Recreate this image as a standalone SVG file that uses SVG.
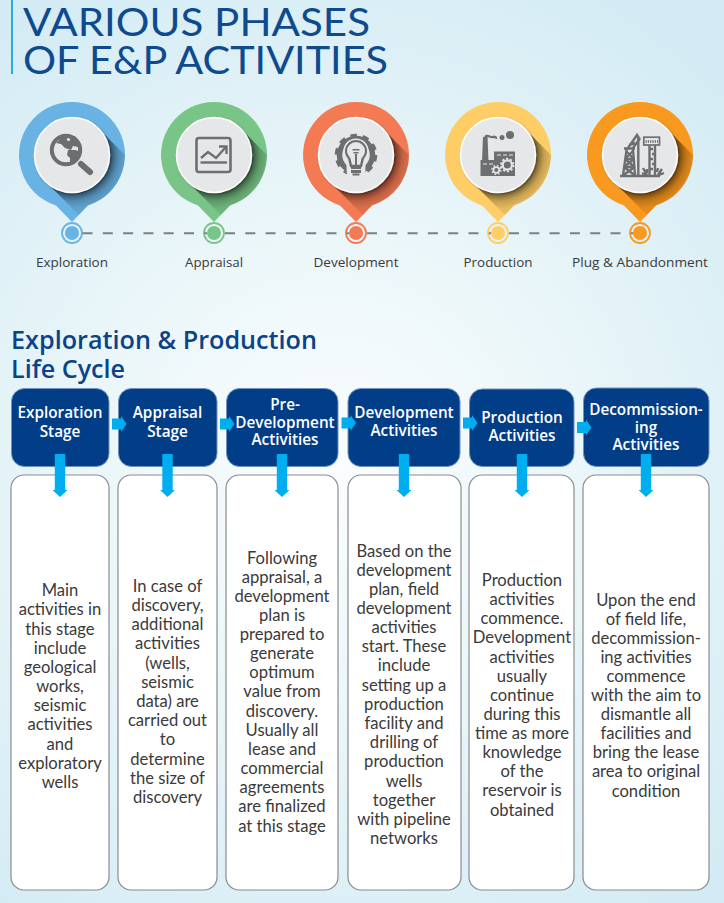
<svg xmlns="http://www.w3.org/2000/svg" width="724" height="903" viewBox="0 0 724 903">
<style>
.title{font:38.5px Lato,"Liberation Sans",sans-serif;fill:#0e4a8f}
.head{font:600 24.5px "Open Sans","Liberation Sans",sans-serif;fill:#0b4389}
.lab{font:13px "Open Sans","Liberation Sans",sans-serif;fill:#3a3a3c;text-anchor:middle}
.hd{fill:#023e87;stroke:#6f93bd;stroke-width:1}
.hdt{font:600 15.3px "Open Sans","Liberation Sans",sans-serif;fill:#fff;text-anchor:middle;transform:translateY(.7px)}
.card{fill:#fff;stroke:#8a8c8e;stroke-width:1.2}
.bt{font:16.6px Lato,"Open Sans",sans-serif;fill:#3a3a3a;text-anchor:middle;transform:translateY(1px)}
.arrow{fill:#00aeef}
.face{fill:#e6e7e8;stroke:#fff;stroke-width:1.5;filter:url(#soft)}
.ic{fill:#6d6e71}
.il{fill:none;stroke:#6d6e71;stroke-width:2.4}
.lt{fill:#e6e7e8}
.dash{stroke:#7c8083;stroke-width:2;stroke-dasharray:10 10.3;fill:none}
</style>
<defs>
<radialGradient id="bg" gradientUnits="userSpaceOnUse" cx="330" cy="470" r="560">
<stop offset="0" stop-color="#fbfdfe"/><stop offset=".45" stop-color="#eaf6f9"/><stop offset="1" stop-color="#d3ebf4"/>
</radialGradient>
<radialGradient id="sh" gradientUnits="userSpaceOnUse" cx="0" cy="0" r="70">
<stop offset=".53" stop-color="#000" stop-opacity=".6"/><stop offset=".66" stop-color="#000" stop-opacity=".22"/><stop offset=".76" stop-color="#000" stop-opacity=".1"/><stop offset="1" stop-color="#000" stop-opacity=".03"/>
</radialGradient>
<path id="pin" d="M-16,50.5A53,53 0 1 1 16,50.5L0,67Z"/>
<clipPath id="pc"><use href="#pin"/></clipPath>
<filter id="soft" x="-20%" y="-20%" width="140%" height="140%"><feDropShadow dx="1" dy="1" stdDeviation="1.2" flood-color="#000" flood-opacity=".3"/></filter>
<g id="pinbase">
<g clip-path="url(#pc)"><polygon points="26.5,-26.5 86.5,33.5 33.5,86.5 -26.5,26.5" fill="url(#sh)"/></g>
<circle class="face" r="37.5"/>
</g>
<path id="ra" d="M0,2H9V-0.5L14.5,7.5L9,15.5V13H0Z"/>
<path id="da" d="M-5.2,0H5.2V36H7.5L0,43L-7.5,36H-5.2Z"/>
</defs>
<rect width="724" height="903" fill="url(#bg)"/>

<g id="title">
<rect x="11" y="0" width="2" height="74" fill="#29abe2"/>
<text class="title" x="23" y="36" textLength="347" lengthAdjust="spacingAndGlyphs">VARIOUS PHASES</text>
<text class="title" x="23" y="74" textLength="365" lengthAdjust="spacingAndGlyphs">OF E&amp;P ACTIVITIES</text>
</g>

<g id="phase-exploration" transform="translate(72,155)">
<use href="#pin" fill="#69b3e4"/><use href="#pinbase"/>
<circle cx="-6" cy="-5" r="14.2" fill="none" stroke="#6d6e71" stroke-width="4"/>
<path class="ic" d="M-16,-12L-9,-19L3,-19L7,-13L6,-8L1,-9L-1,-5L-7,-7L-11,-11Z"/>
<path class="ic" d="M-4,-5L3,-5L7,-4L6,1L2,5L0,9L-2,9L-2,3L-5,0Z"/>
<circle cx="-3.5" cy="-15.5" r="1.6" class="lt"/>
<path d="M9,9L18,17" stroke="#6d6e71" stroke-width="6" stroke-linecap="round"/>
<circle cy="78" r="10" fill="none" stroke="#69b3e4" stroke-width="1.8"/><circle cy="78" r="7" fill="#69b3e4"/>
<text class="lab" y="112" textLength="72" lengthAdjust="spacingAndGlyphs">Exploration</text>
</g>

<g id="phase-appraisal" transform="translate(214,155)">
<use href="#pin" fill="#79c587"/><use href="#pinbase"/>
<rect x="-17.5" y="-17" width="34" height="34" rx="2.5" fill="none" stroke="#6d6e71" stroke-width="2.6"/>
<path class="il" d="M-13,3L-6,-3L2,3L12,-8" stroke-width="2.2"/>
<path class="il" d="M5,-8.5H12.5V-1" stroke-width="2.2"/>
<path class="il" d="M-13.5,7.5H13" stroke-width="2"/>
<circle cy="78" r="10" fill="none" stroke="#79c587" stroke-width="1.8"/><circle cy="78" r="7" fill="#79c587"/>
<text class="lab" y="112" textLength="58" lengthAdjust="spacingAndGlyphs">Appraisal</text>
</g>

<g id="phase-development" transform="translate(356,155)">
<use href="#pin" fill="#f47a53"/><use href="#pinbase"/>
<circle r="16.5" fill="none" stroke="#6d6e71" stroke-width="5.5"/>
<circle r="19.8" fill="none" stroke="#6d6e71" stroke-width="3" stroke-dasharray="6.5 5.94"/>
<circle cy="-4" r="12.6" class="lt"/>
<path class="lt" d="M-10,2H10L9,22H-9Z"/>
<circle cy="-4" r="10" fill="#e6e7e8" stroke="#6d6e71" stroke-width="2"/>
<path class="lt" d="M-7,2H7L5,11H-5Z"/>
<path class="il" d="M-7,2.5L-5,11H5L7,2.5" stroke-width="2"/>
<path class="ic" d="M-5,11.5H5V14H-5ZM-5,15H5V18H-5ZM-3.5,18.5H3.5V20.5H-3.5Z"/>
<rect x="-3.5" y="-6" width="7" height="1.5" class="ic"/><rect x="-2.5" y="-3" width="5" height="1.5" class="ic"/><rect x="-1" y="-1" width="2" height="12" class="ic"/>
<circle cy="78" r="10" fill="none" stroke="#f47a53" stroke-width="1.8"/><circle cy="78" r="7" fill="#f47a53"/>
<text class="lab" y="112" textLength="85" lengthAdjust="spacingAndGlyphs">Development</text>
</g>

<g id="phase-production" transform="translate(498,155)">
<use href="#pin" fill="#fecd66"/><use href="#pinbase"/>
<path class="ic" d="M-15,-18H-10.5L-9.5,6H-16Z"/>
<path class="ic" d="M-17.5,5H-4V-3.5H17V21H-17.5Z"/>
<path d="M-13,-18C-10,-21 -8,-17 -5,-18C-3,-19 -2,-17 -1,-17" fill="none" stroke="#6d6e71" stroke-width="2.4"/>
<circle cx="4" cy="-17.5" r="2.5" class="ic"/><circle cx="12" cy="-20" r="4" class="ic"/>
<circle cx="9.3" cy="10" r="4.6" fill="none" stroke="#e6e7e8" stroke-width="2.2"/><circle cx="9.3" cy="10" r="6.3" fill="none" stroke="#e6e7e8" stroke-width="1.8" stroke-dasharray="2.2 1.75"/>
<circle cx="-1.7" cy="15" r="2.9" fill="none" stroke="#e6e7e8" stroke-width="1.7"/><circle cx="-1.7" cy="15" r="4.4" fill="none" stroke="#e6e7e8" stroke-width="1.4" stroke-dasharray="1.6 1.86"/>
<path d="M-1,0H3M5,0H9M11,0H15M-15,9H-11M-9,9H-5" stroke="#e6e7e8" stroke-width="1.2"/>
<circle cy="78" r="10" fill="none" stroke="#fecd66" stroke-width="1.8"/><circle cy="78" r="7" fill="#fecd66"/>
<text class="lab" y="112" textLength="69" lengthAdjust="spacingAndGlyphs">Production</text>
</g>

<g id="phase-plug" transform="translate(640,155)">
<use href="#pin" fill="#f9991f"/><use href="#pinbase"/>
<path class="il" d="M-20,21H20" stroke-width="1.8"/>
<path class="il" d="M-17,20.5L-13.3,-6M-5,20.5L-7,-6" stroke-width="2"/>
<path class="il" d="M-16,-6.5H-5M-15,4H-6M-16,12H-5M-15,4L-5.5,12M-6,4L-16,12M-16,12L-5,20.5M-5.5,12L-17,20.5M-14,-4L-6,4M-7,-4L-15,4" stroke-width="1.4"/>
<path class="il" d="M-12,-7L-3,-20L-0.5,-16L-7,-7M-11,-10L-5,-12" stroke-width="1.6"/>
<path class="il" d="M-1.7,-17V20" stroke-width="1.7"/>
<rect x="3.8" y="-17.8" width="15.7" height="7.8" fill="none" stroke="#6d6e71" stroke-width="1.7"/>
<path d="M5.5,-13.5H18" stroke="#6d6e71" stroke-width="2.4" stroke-dasharray="1.3 1"/>
<path class="il" d="M9.5,-10V20M15,-10V20" stroke-width="1.7"/>
<path class="il" d="M10,-6H13M12,-1H14.5M10,4H13M12,9H14.5M10,14H13" stroke-width="1.2"/>
<path class="il" d="M7,20L3,13M6,20L2,18M7,18L7,14M18,20L22,14M17,17L18,13M19,20L24,18" stroke-width="1.1"/>
<circle cy="78" r="10" fill="none" stroke="#f9991f" stroke-width="1.8"/><circle cy="78" r="7" fill="#f9991f"/>
<text class="lab" y="112" textLength="136" lengthAdjust="spacingAndGlyphs">Plug &amp; Abandonment</text>
</g>

<g id="subtitle">
<text class="head" x="11" y="348.5" textLength="306" lengthAdjust="spacingAndGlyphs">Exploration &amp; Production</text>
<text class="head" x="11" y="378" textLength="114" lengthAdjust="spacingAndGlyphs">Life Cycle</text>
</g>

<g id="stage-1">
<rect class="card" x="11" y="475" width="98" height="415" rx="13"/>
<rect class="hd" x="11.5" y="388.5" width="97.5" height="78" rx="13"/>
<text class="hdt"><tspan x="60" y="417">Exploration</tspan><tspan x="60" y="436">Stage</tspan></text>
<text class="bt"><tspan x="60" y="595">Main</tspan><tspan x="60" y="614">activities in</tspan><tspan x="60" y="634">this stage</tspan><tspan x="60" y="653">include</tspan><tspan x="60" y="672">geological</tspan><tspan x="60" y="691">works,</tspan><tspan x="60" y="710">seismic</tspan><tspan x="60" y="729">activities</tspan><tspan x="60" y="749">and</tspan><tspan x="60" y="768">exploratory</tspan><tspan x="60" y="787">wells</tspan></text>
</g>

<g id="stage-2">
<rect class="card" x="118" y="475" width="99" height="415" rx="13"/>
<rect class="hd" x="118.5" y="388.5" width="98.5" height="78" rx="13"/>
<text class="hdt"><tspan x="167.5" y="417">Appraisal</tspan><tspan x="167.5" y="436">Stage</tspan></text>
<text class="bt"><tspan x="167.5" y="591">In case of</tspan><tspan x="167.5" y="610">discovery,</tspan><tspan x="167.5" y="629">additional</tspan><tspan x="167.5" y="648">activities</tspan><tspan x="167.5" y="668">(wells,</tspan><tspan x="167.5" y="687">seismic</tspan><tspan x="167.5" y="706">data) are</tspan><tspan x="167.5" y="725">carried out</tspan><tspan x="167.5" y="744">to</tspan><tspan x="167.5" y="764">determine</tspan><tspan x="167.5" y="783">the size of</tspan><tspan x="167.5" y="802">discovery</tspan></text>
</g>

<g id="stage-3">
<rect class="card" x="226" y="475" width="112" height="415" rx="13"/>
<rect class="hd" x="226.5" y="388.5" width="111.5" height="78" rx="13"/>
<text class="hdt"><tspan x="285" y="409">Pre-</tspan><tspan x="285" y="427">Development</tspan><tspan x="285" y="444">Activities</tspan></text>
<text class="bt"><tspan x="282" y="563">Following</tspan><tspan x="282" y="582">appraisal, a</tspan><tspan x="282" y="601">development</tspan><tspan x="282" y="620">plan is</tspan><tspan x="282" y="639">prepared to</tspan><tspan x="282" y="658">generate</tspan><tspan x="282" y="677">optimum</tspan><tspan x="282" y="696">value from</tspan><tspan x="282" y="716">discovery.</tspan><tspan x="282" y="735">Usually all</tspan><tspan x="282" y="754">lease and</tspan><tspan x="282" y="773">commercial</tspan><tspan x="282" y="792">agreements</tspan><tspan x="282" y="811">are finalized</tspan><tspan x="282" y="831">at this stage</tspan></text>
</g>

<g id="stage-4">
<rect class="card" x="348" y="475" width="113" height="415" rx="13"/>
<rect class="hd" x="348" y="388.5" width="112" height="78" rx="13"/>
<text class="hdt"><tspan x="404" y="417">Development</tspan><tspan x="404" y="435">Activities</tspan></text>
<text class="bt"><tspan x="404" y="556">Based on the</tspan><tspan x="404" y="575">development</tspan><tspan x="404" y="594">plan, field</tspan><tspan x="404" y="613">development</tspan><tspan x="404" y="632">activities</tspan><tspan x="404" y="651">start. These</tspan><tspan x="404" y="670">include</tspan><tspan x="404" y="690">setting up a</tspan><tspan x="404" y="709">production</tspan><tspan x="404" y="728">facility and</tspan><tspan x="404" y="747">drilling of</tspan><tspan x="404" y="766">production</tspan><tspan x="404" y="786">wells</tspan><tspan x="404" y="805">together</tspan><tspan x="404" y="824">with pipeline</tspan><tspan x="404" y="843">networks</tspan></text>
</g>

<g id="stage-5">
<rect class="card" x="469" y="475" width="105" height="415" rx="13"/>
<rect class="hd" x="469.5" y="389" width="104.5" height="77.5" rx="13"/>
<text class="hdt"><tspan x="522" y="422">Production</tspan><tspan x="522" y="440">Activities</tspan></text>
<text class="bt"><tspan x="522" y="585">Production</tspan><tspan x="522" y="604">activities</tspan><tspan x="522" y="623">commence.</tspan><tspan x="522" y="642">Development</tspan><tspan x="522" y="662">activities</tspan><tspan x="522" y="681">usually</tspan><tspan x="522" y="700">continue</tspan><tspan x="522" y="719">during this</tspan><tspan x="522" y="738">time as more</tspan><tspan x="522" y="757">knowledge</tspan><tspan x="522" y="776">of the</tspan><tspan x="522" y="795">reservoir is</tspan><tspan x="522" y="815">obtained</tspan></text>
</g>

<g id="stage-6">
<rect class="card" x="583" y="475" width="126" height="415" rx="13"/>
<rect class="hd" x="583.5" y="388" width="125.5" height="78.5" rx="13"/>
<text class="hdt"><tspan x="646" y="414">Decommission-</tspan><tspan x="646" y="432">ing</tspan><tspan x="646" y="449">Activities</tspan></text>
<text class="bt"><tspan x="646" y="605">Upon the end</tspan><tspan x="646" y="624">of field life,</tspan><tspan x="646" y="643">decommission-</tspan><tspan x="646" y="662">ing activities</tspan><tspan x="646" y="681">commence</tspan><tspan x="646" y="700">with the aim to</tspan><tspan x="646" y="719">dismantle all</tspan><tspan x="646" y="738">facilities and</tspan><tspan x="646" y="757">bring the lease</tspan><tspan x="646" y="776">area to original</tspan><tspan x="646" y="796">condition</tspan></text>
</g>

<g id="connectors">
<path class="dash" d="M82.5,233.3H207M225,233.3H349M367,233.3H491M509,233.3H633"/>
<use href="#ra" class="arrow" x="112" y="416.5"/>
<use href="#ra" class="arrow" x="220" y="416.5"/>
<use href="#ra" class="arrow" x="341.5" y="415.5"/>
<use href="#ra" class="arrow" x="463" y="415.5"/>
<use href="#ra" class="arrow" x="577" y="420"/>
<use href="#da" class="arrow" x="60" y="454"/>
<use href="#da" class="arrow" x="167.5" y="454"/>
<use href="#da" class="arrow" x="282" y="454"/>
<use href="#da" class="arrow" x="404" y="454"/>
<use href="#da" class="arrow" x="522" y="454"/>
<use href="#da" class="arrow" x="646" y="454"/>
</g>
</svg>
